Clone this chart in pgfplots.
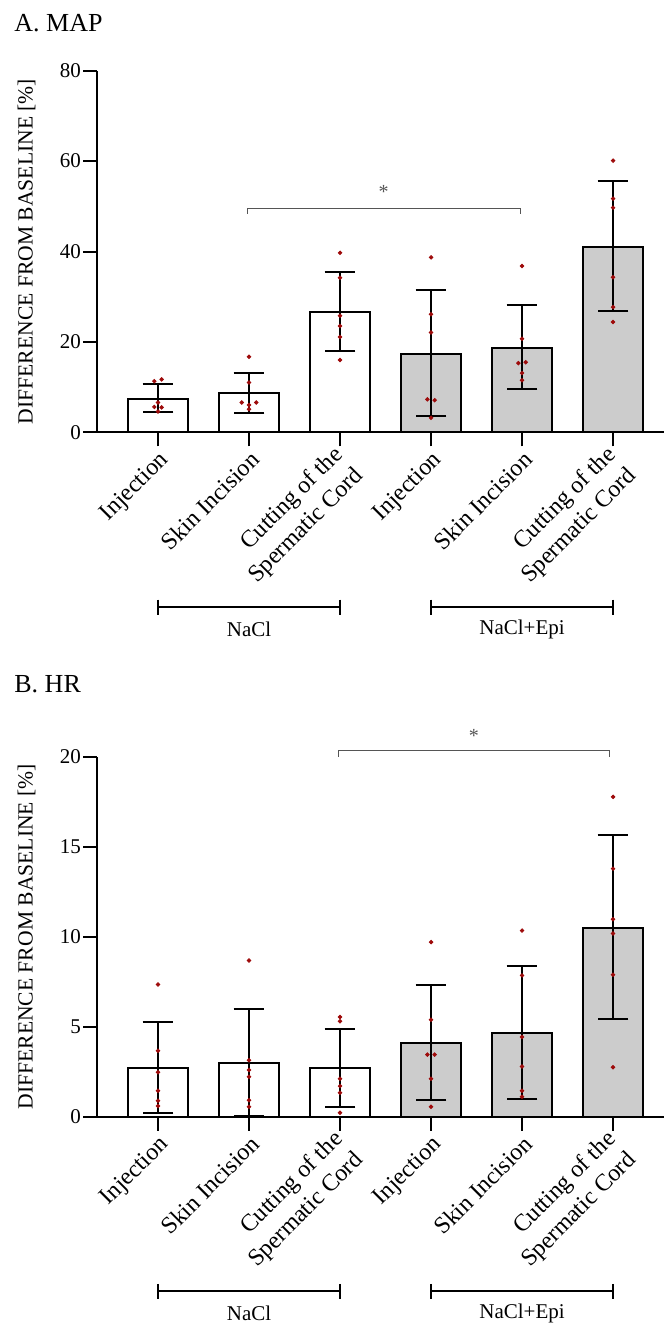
\documentclass[border=0pt]{standalone}
\usepackage{fontspec}
\setmainfont{Liberation Serif}
\usepackage{pgfplots}
\pgfplotsset{compat=1.18}
\definecolor{Dot}{HTML}{9E0B0B}
\definecolor{BarGray}{HTML}{CCCCCC}
\definecolor{Sig}{HTML}{555555}

\tikzset{grp/.style={font=\fontsize{10.5}{12}\selectfont}}
\pgfplotsset{
  panel/.style={
    scale only axis, width=283.35pt,
    xmin=-0.667, xmax=5.56, ymin=0,
    axis x line*=bottom, axis y line*=left,
    axis line style={line width=1pt},
    tick align=outside, major tick length=7pt,
    every tick/.style={black, line width=1pt},
    xtick={0,1,3,4},
    xticklabels={Injection,Skin Incision,Injection,Skin Incision},
    extra x ticks={2,5},
    extra x tick labels={{Cutting of the\\Spermatic Cord},{Cutting of the\\Spermatic Cord}},
    extra x tick style={tick label style={xshift=-4.2pt, yshift=2.8pt}},
    x tick label style={rotate=45, anchor=north east, align=right,
      font=\fontsize{12}{14.5}\selectfont, inner sep=1pt},
    y tick label style={font=\fontsize{10.5}{12}\selectfont, inner sep=1pt},
    /pgf/number format/assume math mode=true,
    ylabel={DIFFERENCE FROM BASELINE [\%]},
    every axis y label/.style={at={(axis description cs:-0.125,0.5)},
      rotate=90, anchor=center, font=\fontsize{10.8}{12}\selectfont},
    clip=false,
  },
  bars/.style={ybar, bar width=0.653, draw=black, line width=1pt,
    error bars/y dir=both, error bars/y explicit, error bars/error mark=|,
    error bars/error bar style={line width=1pt, black},
    error bars/error mark options={line width=1pt, black, mark size=7.7pt}},
  dots/.style={only marks, mark=*, mark size=0.9pt, color=Dot,
    mark options={draw=Dot, fill=Dot}},
}

\begin{document}
\begin{tikzpicture}
\useasboundingbox (0,0) rectangle (332.5pt,-663pt);

\node[anchor=base west, inner sep=0, font=\fontsize{13}{15}\selectfont] at (7pt,-16pt) {A. MAP};
\node[anchor=base west, inner sep=0, font=\fontsize{13}{15}\selectfont] at (7pt,-346pt) {B. HR};

% A. MAP
\begin{axis}[panel, at={(48.65pt,-216.15pt)}, anchor=south west,
  height=180.8pt, ymax=80, ytick={0,20,40,60,80}]
\addplot[bars, fill=white] coordinates {
  (0,7.4) += (0,3.3) -= (0,3.0)
  (1,8.6) += (0,4.5) -= (0,4.3)
  (2,26.6) += (0,8.9) -= (0,8.6)};
\addplot[bars, fill=BarGray] coordinates {
  (3,17.3) += (0,14.1) -= (0,13.8)
  (4,18.6) += (0,9.6) -= (0,9.1)
  (5,41.1) += (0,14.6) -= (0,14.2)};
\addplot[dots] coordinates {
  (-0.04,11.3) (0.04,11.7) (0,6.6) (-0.04,5.6) (0.04,5.5) (0,4.6)
  (1,16.7) (1,11.0) (0.92,6.6) (1.08,6.6) (1,6.05) (1,5.1)
  (2,39.7) (2,34.2) (2,25.8) (2,23.5) (2,21.1) (2,16.0)
  (3,38.7) (3,26.1) (3,22.1) (2.96,7.3) (3.04,7.1) (3,3.2)
  (4,36.8) (4,20.7) (3.96,15.3) (4.04,15.5) (4,13.1) (4,11.5)
  (5,60.1) (5,51.7) (5,49.7) (5,34.3) (5,27.7) (5,24.4)};
\draw[Sig, line width=0.6pt] (axis cs:0.98,48.3) -- (axis cs:0.98,49.6)
  -- (axis cs:3.98,49.6) -- (axis cs:3.98,48.3);
\node[Sig, font=\fontsize{10}{12}\selectfont] at (axis cs:2.48,53.1) {*};
\draw[line width=1pt] (axis cs:0,-36.99) -- (axis cs:0,-40.31)
  (axis cs:0,-38.65) -- (axis cs:2,-38.65)
  (axis cs:2,-36.99) -- (axis cs:2,-40.31);
\draw[line width=1pt] (axis cs:3,-36.99) -- (axis cs:3,-40.31)
  (axis cs:3,-38.65) -- (axis cs:5,-38.65)
  (axis cs:5,-36.99) -- (axis cs:5,-40.31);
\node[grp] at (axis cs:1,-43.6) {NaCl};
\node[grp] at (axis cs:4,-43.6) {NaCl+Epi};
\end{axis}

% B. HR
\begin{axis}[panel, at={(48.65pt,-558.35pt)}, anchor=south west,
  height=180pt, ymax=20, ytick={0,5,10,15,20}]
\addplot[bars, fill=white] coordinates {
  (0,2.71) += (0,2.55) -= (0,2.49)
  (1,2.99) += (0,2.97) -= (0,2.93)
  (2,2.70) += (0,2.19) -= (0,2.18)};
\addplot[bars, fill=BarGray] coordinates {
  (3,4.10) += (0,3.19) -= (0,3.16)
  (4,4.65) += (0,3.72) -= (0,3.67)
  (5,10.51) += (0,5.13) -= (0,5.08)};
\addplot[dots] coordinates {
  (0,7.35) (0,3.66) (0,2.47) (0,1.44) (0,0.89) (0,0.59)
  (1,8.68) (1,3.14) (1,2.59) (1,2.22) (1,0.92) (1,0.55)
  (2,5.54) (2,5.30) (2,2.11) (2,1.70) (2,1.33) (2,0.22)
  (3,9.70) (3,5.39) (2.96,3.45) (3.04,3.45) (3,2.11) (3,0.55)
  (4,10.34) (4,7.85) (4,4.43) (4,2.79) (4,1.44) (4,1.11)
  (5,17.77) (5,13.78) (5,10.97) (5,10.18) (5,7.89) (5,2.75)};
\draw[Sig, line width=0.6pt] (axis cs:1.98,20.0) -- (axis cs:1.98,20.35)
  -- (axis cs:4.96,20.35) -- (axis cs:4.96,20.0);
\node[Sig, font=\fontsize{10}{12}\selectfont] at (axis cs:3.47,21.14) {*};
\draw[line width=1pt] (axis cs:0,-9.28) -- (axis cs:0,-10.12)
  (axis cs:0,-9.7) -- (axis cs:2,-9.7)
  (axis cs:2,-9.28) -- (axis cs:2,-10.12);
\draw[line width=1pt] (axis cs:3,-9.28) -- (axis cs:3,-10.12)
  (axis cs:3,-9.7) -- (axis cs:5,-9.7)
  (axis cs:5,-9.28) -- (axis cs:5,-10.12);
\node[grp] at (axis cs:1,-10.94) {NaCl};
\node[grp] at (axis cs:4,-10.94) {NaCl+Epi};
\end{axis}
\end{tikzpicture}
\end{document}
